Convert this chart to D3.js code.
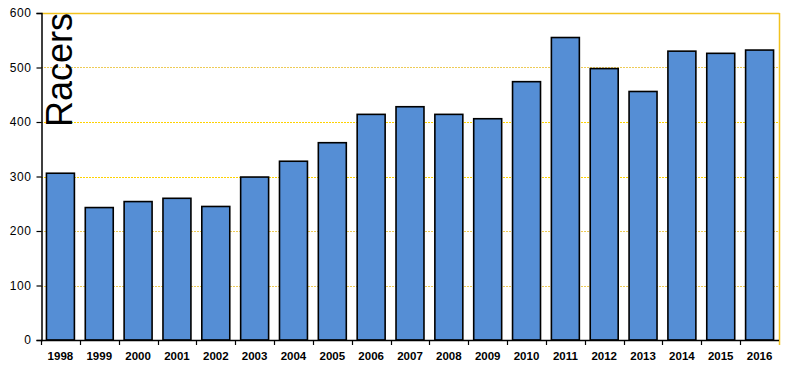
<!DOCTYPE html>
<html>
<head>
<meta charset="utf-8">
<script src="https://cdn.jsdelivr.net/npm/d3@7"></script>
<style>
  html, body { margin: 0; padding: 0; background: #fff; }
  svg { display: block; }
</style>
</head>
<body>
<svg id="chart" width="788" height="372"></svg>
<script>
const years = ["1998","1999","2000","2001","2002","2003","2004","2005","2006","2007","2008","2009","2010","2011","2012","2013","2014","2015","2016"];
const racers = [306,243,254,260,245,299,328,362,414,428,414,406,474,555,498,456,530,526,532];
const yTicks = [0,100,200,300,400,500,600];
const yTitle = "Racers";

const svg = d3.select("#chart");
const L = 41, R = 779, T = 13, B = 340;

const x = d3.scaleBand().domain(years).range([L, R]).paddingInner(0.28).paddingOuter(0.14);
const y = d3.scaleLinear().domain([0, 600]).range([B, T]);

// gridlines
const strong = new Set([300, 400]);
svg.append("g").selectAll("line")
  .data(yTicks.filter(d => d > 0 && d < 600))
  .join("line")
  .attr("x1", L).attr("x2", R)
  .attr("y1", d => Math.round(y(d)) + 0.5)
  .attr("y2", d => Math.round(y(d)) + 0.5)
  .attr("stroke", d => strong.has(d) ? "#FFD200" : "#EECB55")
  .attr("stroke-width", 1)
  .attr("stroke-dasharray", "2,1");

// top & right border
svg.append("line").attr("x1", L).attr("x2", R + 0.5)
  .attr("y1", Math.round(y(600)) + 0.5).attr("y2", Math.round(y(600)) + 0.5)
  .attr("stroke", "#F2C21E").attr("stroke-width", 1.5);
svg.append("line").attr("x1", R + 0.5).attr("x2", R + 0.5)
  .attr("y1", Math.round(y(600))).attr("y2", B + 5)
  .attr("stroke", "#F2C21E").attr("stroke-width", 1.5);

// bars
svg.append("g").selectAll("rect")
  .data(years.map((yr, i) => ({ yr, v: racers[i] })))
  .join("rect")
  .attr("x", d => x(d.yr))
  .attr("y", d => y(d.v))
  .attr("width", x.bandwidth())
  .attr("height", d => B - y(d.v))
  .attr("fill", "#558ED5")
  .attr("stroke", "#000")
  .attr("stroke-width", 1.6);

// y axis
const yAxis = d3.axisLeft(y).tickValues(yTicks).tickSize(5).tickPadding(5);
const gy = svg.append("g").attr("transform", `translate(${L + 0.5},0)`).call(yAxis);
gy.select(".domain").attr("stroke", "#000").attr("stroke-width", 1.5);
gy.selectAll(".tick line").attr("stroke", "#000").attr("stroke-width", 1.2);
gy.selectAll(".tick text")
  .attr("font-family", "'Liberation Sans', Arial, sans-serif")
  .attr("font-size", "12px")
  .attr("letter-spacing", "0.6px")
  .attr("fill", "#000");

// x axis with ticks at band boundaries
svg.append("line").attr("x1", L).attr("x2", R)
  .attr("y1", B + 0.5).attr("y2", B + 0.5)
  .attr("stroke", "#000").attr("stroke-width", 1.5);
const bounds = d3.range(years.length).map(i => L + i * (R - L) / years.length);
svg.append("g").selectAll("line")
  .data(bounds)
  .join("line")
  .attr("x1", d => Math.round(d) + 0.5).attr("x2", d => Math.round(d) + 0.5)
  .attr("y1", B).attr("y2", B + 5)
  .attr("stroke", "#000").attr("stroke-width", 1.2);
svg.append("g").selectAll("text")
  .data(years)
  .join("text")
  .attr("x", d => x(d) + x.bandwidth() / 2)
  .attr("y", 360)
  .attr("text-anchor", "middle")
  .attr("font-family", "'Liberation Sans', Arial, sans-serif")
  .attr("font-weight", "bold")
  .attr("font-size", "11.5px")
  .attr("fill", "#000")
  .text(d => d);

// title
svg.append("text")
  .attr("transform", "translate(72,127) rotate(-90)")
  .attr("text-anchor", "start")
  .attr("font-family", "'Liberation Sans', Arial, sans-serif")
  .attr("font-size", "36px")
  .attr("fill", "#000")
  .text(yTitle);
</script>
</body>
</html>
